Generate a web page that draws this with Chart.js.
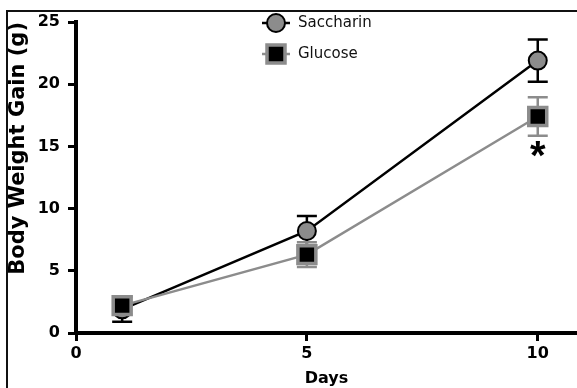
<!DOCTYPE html>
<html><head><meta charset="utf-8">
<script src="https://cdn.jsdelivr.net/npm/chart.js@4/dist/chart.umd.min.js"></script>
<style>html,body{margin:0;padding:0;background:#fff}#wrap{width:577px;height:388px;position:relative}</style>
</head><body><div id="wrap"><canvas id="c" width="577" height="388"></canvas></div>
<script>
// ---- data ----
const days = [1, 5, 10];
const saccharinMean = [1.9, 8.2, 21.9];
const saccharinErr = [1.0, 1.2, 1.7];
const glucoseMean = [2.2, 6.3, 17.4];
const glucoseErr = [0.7, 1.0, 1.55];
const xTicks = [0, 5, 10];
const yTicks = [0, 5, 10, 15, 20, 25];
const seriesNames = ['Saccharin', 'Glucose'];
const significantDays = [10];

const BLACK = '#000000';
const GRAY = '#8c8c8c';
const tickFont = {family: '"DejaVu Sans"', weight: 'bold', size: 16};

const series = [
  {name: seriesNames[0], mean: saccharinMean, err: saccharinErr, line: BLACK, fill: GRAY, edge: BLACK, shape: 'circle'},
  {name: seriesNames[1], mean: glucoseMean, err: glucoseErr, line: GRAY, fill: BLACK, edge: GRAY, shape: 'rect'}
];

const framePlugin = {
  id: 'frame',
  beforeDraw(chart) {
    const ctx = chart.ctx;
    ctx.save();
    ctx.fillStyle = '#fff';
    ctx.fillRect(0, 0, chart.width, chart.height);
    ctx.strokeStyle = '#111';
    ctx.lineWidth = 2;
    ctx.beginPath();
    ctx.moveTo(7, 388); ctx.lineTo(7, 11); ctx.lineTo(577, 11);
    ctx.stroke();
    ctx.restore();
  }
};

const errorBarPlugin = {
  id: 'errbars',
  beforeDatasetsDraw(chart) {
    const ctx = chart.ctx, xs = chart.scales.x, ys = chart.scales.y;
    ctx.save();
    ctx.lineWidth = 2.5;
    series.forEach(s => {
      ctx.strokeStyle = s.line;
      days.forEach((d, i) => {
        const x = xs.getPixelForValue(d);
        const yt = ys.getPixelForValue(s.mean[i] + s.err[i]);
        const yb = ys.getPixelForValue(s.mean[i] - s.err[i]);
        ctx.beginPath();
        ctx.moveTo(x, yt); ctx.lineTo(x, yb);
        ctx.moveTo(x - 10, yt); ctx.lineTo(x + 10, yt);
        ctx.moveTo(x - 10, yb); ctx.lineTo(x + 10, yb);
        ctx.stroke();
      });
    });
    ctx.restore();
  },
  afterDatasetsDraw(chart) {
    const ctx = chart.ctx, xs = chart.scales.x, ys = chart.scales.y;
    ctx.save();
    // significance asterisk
    ctx.fillStyle = BLACK;
    ctx.font = 'bold 40px "Liberation Sans"';
    ctx.textAlign = 'center';
    ctx.textBaseline = 'alphabetic';
    significantDays.forEach(d => {
      const i = days.indexOf(d);
      const x = xs.getPixelForValue(d);
      const yc = ys.getPixelForValue(glucoseMean[i] - glucoseErr[i]) + 11;
      ctx.fillText('*', x, yc + 22);
    });
    // legend
    const lx = 276, ly0 = 23, dy = 31;
    series.forEach((s, k) => {
      const y = ly0 + k * dy;
      ctx.strokeStyle = s.line;
      ctx.lineWidth = 2.5;
      ctx.beginPath(); ctx.moveTo(lx - 14, y); ctx.lineTo(lx + 14, y); ctx.stroke();
      ctx.fillStyle = s.fill;
      ctx.strokeStyle = s.edge;
      if (s.shape === 'circle') {
        ctx.lineWidth = 2;
        ctx.beginPath(); ctx.arc(lx, y, 9, 0, Math.PI * 2); ctx.fill(); ctx.stroke();
      } else {
        ctx.lineWidth = 3.5;
        ctx.beginPath(); ctx.rect(lx - 9, y - 9, 18, 18); ctx.fill(); ctx.stroke();
      }
      ctx.fillStyle = '#111';
      ctx.font = '15px "DejaVu Sans"';
      ctx.textAlign = 'left';
      ctx.textBaseline = 'middle';
      ctx.fillText(s.name, lx + 22, y);
    });
    ctx.restore();
  }
};

new Chart(document.getElementById('c'), {
  type: 'line',
  data: {
    datasets: series.map((s, k) => ({
      label: s.name,
      data: days.map((d, i) => ({x: d, y: s.mean[i]})),
      borderColor: s.line,
      borderWidth: 2.5,
      pointStyle: s.shape,
      pointRadius: s.shape === 'circle' ? 9 : 12.7,
      pointBackgroundColor: s.fill,
      pointBorderColor: s.edge,
      pointBorderWidth: s.shape === 'circle' ? 2 : 3.5,
      tension: 0,
      fill: false,
      order: k === 0 ? 1 : 0
    }))
  },
  options: {
    responsive: false,
    animation: false,
    devicePixelRatio: 1,
    layout: {autoPadding: false, padding: {left: 0, right: 0, top: 22, bottom: 0}},
    plugins: {legend: {display: false}, tooltip: {enabled: false}},
    scales: {
      x: {
        type: 'linear', min: 0, max: 10.85,
        afterBuildTicks: s => { s.ticks = xTicks.map(v => ({value: v})); },
        afterFit: s => { s.height = 55; s.paddingLeft = 0; s.paddingRight = 0; },
        ticks: {font: tickFont, color: BLACK, padding: 3, maxRotation: 0, autoSkip: false},
        grid: {drawOnChartArea: false, drawTicks: true, tickLength: 8, tickWidth: 3, tickColor: BLACK},
        border: {display: true, color: BLACK, width: 4},
        title: {display: true, text: 'Days', color: BLACK, font: {family: '"DejaVu Sans"', weight: 'bold', size: 16}, padding: {top: 0, bottom: 0}}
      },
      y: {
        type: 'linear', min: 0, max: 25,
        afterBuildTicks: s => { s.ticks = yTicks.map(v => ({value: v})); },
        afterFit: s => { s.width = 76; s.paddingTop = 0; s.paddingBottom = 0; },
        ticks: {font: tickFont, color: BLACK, padding: 8},
        grid: {drawOnChartArea: false, drawTicks: true, tickLength: 8, tickWidth: 3, tickColor: BLACK},
        border: {display: true, color: BLACK, width: 4},
        title: {display: true, text: 'Body Weight Gain (g)', align: 'end', color: BLACK, font: {family: '"DejaVu Sans"', weight: 'bold', size: 21}, padding: {top: 6, bottom: 0}}
      }
    }
  },
  plugins: [framePlugin, errorBarPlugin]
});
</script></body></html>
